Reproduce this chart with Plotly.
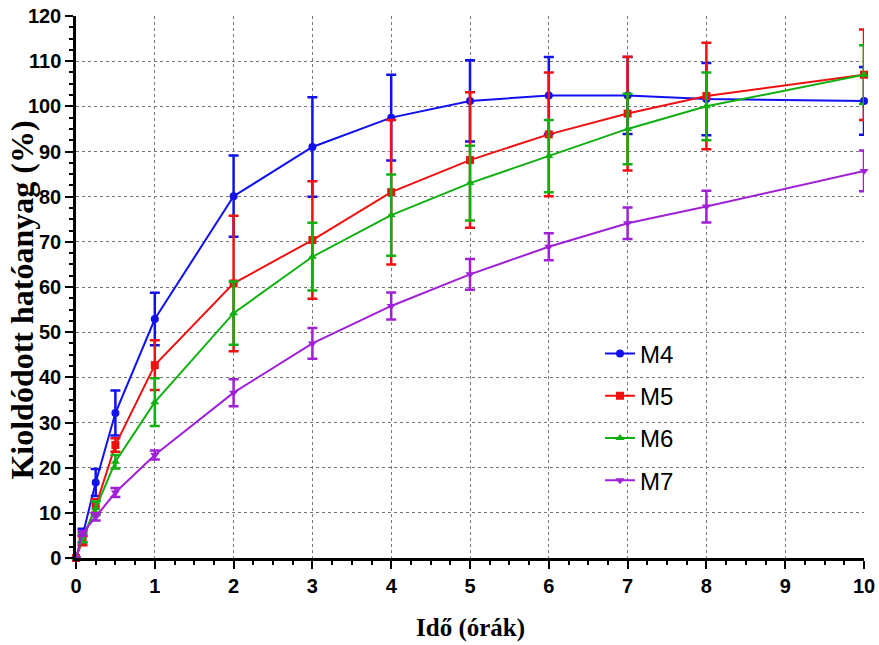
import plotly.graph_objects as go

time_h = [0, 0.083, 0.25, 0.5, 1, 2, 3, 4, 5, 6, 7, 8, 10]

m4 = [0, 5.0, 16.7, 32.1, 52.9, 80.1, 91.0, 97.5, 101.2, 102.4, 102.4, 101.6, 101.2]
m4_err = [0, 1.5, 3.0, 5.0, 5.8, 9.0, 11.0, 9.5, 9.0, 8.5, 8.5, 8.0, 7.5]

m5 = [0, 3.8, 11.5, 25.0, 42.7, 60.8, 70.4, 81.0, 88.1, 93.8, 98.4, 102.3, 107.0]
m5_err = [0, 1.0, 1.5, 1.5, 5.5, 15.0, 13.0, 16.0, 15.0, 13.7, 12.6, 11.8, 10.0]

m6 = [0, 4.5, 11.0, 21.3, 34.5, 54.2, 66.7, 75.9, 83.0, 89.0, 95.0, 100.0, 107.0]
m6_err = [0, 1.0, 1.5, 1.5, 5.3, 7.0, 7.5, 9.0, 8.3, 8.0, 7.8, 7.5, 6.5]

m7 = [0, 5.5, 9.1, 14.5, 22.8, 36.6, 47.5, 55.8, 62.8, 68.9, 74.1, 77.8, 85.7]
m7_err = [0, 0.5, 0.8, 1.0, 1.0, 3.0, 3.4, 3.0, 3.4, 3.0, 3.5, 3.5, 4.5]

x_title = "Idő (órák)"
y_title = "Kioldódott hatóanyag (%)"

series = [
    ("M4", m4, m4_err, "#1010f0", "circle"),
    ("M5", m5, m5_err, "#f01010", "square"),
    ("M6", m6, m6_err, "#10b010", "triangle-up"),
    ("M7", m7, m7_err, "#a020d8", "triangle-down"),
]

fig = go.Figure()
for name, vals, errs, col, sym in series:
    fig.add_trace(go.Scatter(
        x=time_h, y=vals, name=name, mode="lines+markers",
        line=dict(color=col, width=2),
        marker=dict(color=col, symbol=sym, size=8),
        error_y=dict(type="data", array=errs, visible=True, color=col, thickness=2.5, width=5),
        legendgroup=name, cliponaxis=False,
    ))

axis_font = dict(family="Liberation Sans", size=20, color="black", weight="bold")
title_font_family = "Liberation Serif"

fig.update_layout(
    width=879, height=645,
    margin=dict(l=76, r=15, t=16, b=87),
    paper_bgcolor="white", plot_bgcolor="white",
    showlegend=True,
    legend=dict(
        x=0.665, y=0.418, xanchor="left", yanchor="top",
        bgcolor="rgba(0,0,0,0)",
        font=dict(family="Liberation Sans", size=24, color="black"),
        tracegroupgap=8, itemwidth=30,
    ),
    xaxis=dict(
        range=[0, 10], dtick=1, tick0=0, automargin=False,
        showline=True, linecolor="black", linewidth=2.5,
        ticks="outside", ticklen=8, tickwidth=2, tickcolor="black",
        tickfont=axis_font,
        showgrid=True, gridcolor="#777777", griddash="dot", gridwidth=1,
        zeroline=False,
        minor=dict(dtick=0.25, ticks="outside", ticklen=4, tickwidth=1.5, tickcolor="black", showgrid=False),
    ),
    yaxis=dict(
        range=[0, 120], dtick=10, tick0=0, automargin=False,
        showline=True, linecolor="black", linewidth=2.5,
        ticks="outside", ticklen=8, tickwidth=2, tickcolor="black",
        tickfont=axis_font,
        showgrid=True, gridcolor="#777777", griddash="dot", gridwidth=1,
        zeroline=False,
        minor=dict(dtick=2.5, ticks="outside", ticklen=4, tickwidth=1.5, tickcolor="black", showgrid=False),
    ),
    annotations=[
        dict(text=x_title, xref="paper", yref="paper", x=0.5, y=-0.129,
             xanchor="center", yanchor="middle", showarrow=False,
             font=dict(family=title_font_family, size=25, color="black", weight="bold")),
        dict(text=y_title, xref="paper", yref="paper", x=-0.0685, y=0.475,
             xanchor="center", yanchor="middle", showarrow=False, textangle=-90,
             font=dict(family=title_font_family, size=32, color="black", weight="bold")),
    ],
)

fig.write_html(
    "out.html",
    config={"displayModeBar": False},
    post_script="document.body.style.margin='0';document.body.style.overflow='hidden';",
)
